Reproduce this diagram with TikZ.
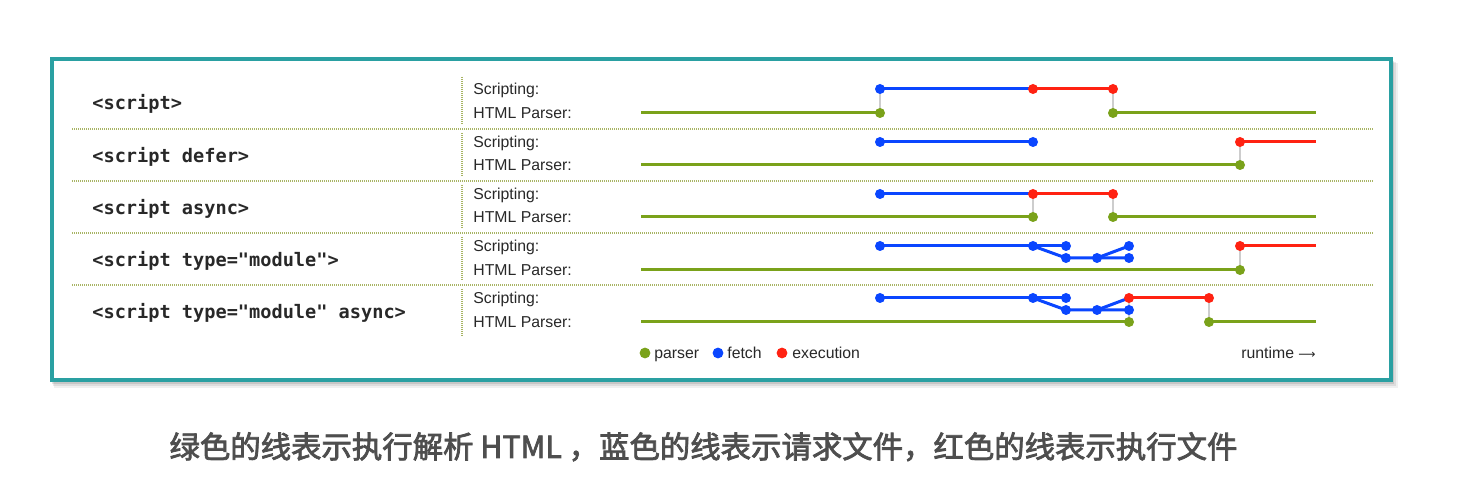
\documentclass[tikz,border=0pt]{standalone}
\usepackage{fontspec}
\setmainfont{Liberation Sans}
\newfontfamily\codefont{DejaVu Sans Mono}
\newfontfamily\cjk[FakeBold=2.5]{Noto Sans CJK SC}
\newfontfamily\dejavu{DejaVu Sans}
\definecolor{grn}{RGB}{122,162,26}
\definecolor{blu}{RGB}{10,70,255}
\definecolor{rd}{RGB}{255,34,18}
\definecolor{conn}{RGB}{205,205,205}
\definecolor{frame}{RGB}{42,160,162}
\definecolor{sep}{RGB}{168,180,100}
\definecolor{txt}{RGB}{40,40,40}
\definecolor{cap}{RGB}{78,78,78}
\tikzset{
  gline/.style={grn, line width=1.5pt},
  bline/.style={blu, line width=1.5pt},
  rline/.style={rd, line width=1.5pt},
  cline/.style={conn, line width=0.6pt},
  gdot/.style={circle, fill=grn, inner sep=0pt, minimum size=5pt},
  bdot/.style={circle, fill=blu, inner sep=0pt, minimum size=5pt},
  rdot/.style={circle, fill=rd, inner sep=0pt, minimum size=5pt},
  sepline/.style={sep, line width=0.6pt, dash pattern=on 0.5pt off 0.5pt},
  rowlabel/.style={anchor=base west, inner sep=0pt, text=txt, font=\codefont\bfseries\fontsize{9.3}{11}\selectfont},
  tracklabel/.style={anchor=base west, inner sep=0pt, text=txt, font=\fontsize{7.9}{9}\selectfont},
  legtext/.style={anchor=base west, inner sep=0pt, text=txt, font=\fontsize{7.9}{9}\selectfont}
}
\begin{document}
\begin{tikzpicture}[x=0.5pt,y=-0.5pt]
\useasboundingbox (0,0) rectangle (1464,501);
\fill[white] (0,0) rectangle (1464,501);
% shadow
\fill[black, opacity=0.06] (54,63) rectangle (1398,388);
\fill[black, opacity=0.08] (53,62) rectangle (1396,386);
\fill[black, opacity=0.10] (52,61) rectangle (1394,384);
% frame
\draw[frame, line width=2pt, fill=white] (52,59) rectangle (1391,380);

% separators
\foreach \yy in {129,181,233,285} \draw[sepline] (72,\yy) -- (1373,\yy);
\foreach \ya/\yb in {77/125,133/177,185/229,237/281,289/336} \draw[sepline] (462,\ya) -- (462,\yb);

% row labels
\node[rowlabel] (l1) at (92,110) {<script>};
\node[rowlabel] (l2) at (92,163) {<script defer>};
\node[rowlabel] (l3) at (92,215) {<script async>};
\node[rowlabel] (l4) at (92,267) {<script type="module">};
\node[rowlabel] (l5) at (92,319) {<script type="module" async>};
\foreach \s/\p/\n in {89/113/1,142/165/2,194/217/3,246/270/4,298/322/5}{
  \node[tracklabel] (sc\n) at (473,\s+6) {Scripting:};
  \node[tracklabel] (hp\n) at (473,\p+6) {HTML Parser:};
}

% ---- row 1
\coordinate (r1g0) at (641,113); \coordinate (r1g1) at (880,113);
\coordinate (r1f0) at (880,89);  \coordinate (r1f1) at (1033,89);
\coordinate (r1e1) at (1113,89); \coordinate (r1g2) at (1113,113);
\coordinate (r1g3) at (1316,113);
% ---- row 2
\coordinate (r2f0) at (880,142); \coordinate (r2f1) at (1033,142);
\coordinate (r2g0) at (641,165); \coordinate (r2g1) at (1240,165);
\coordinate (r2e0) at (1240,142); \coordinate (r2e1) at (1316,142);
% ---- row 3
\coordinate (r3f0) at (880,194); \coordinate (r3f1) at (1033,194);
\coordinate (r3e1) at (1113,194);
\coordinate (r3g0) at (641,217); \coordinate (r3g1) at (1033,217);
\coordinate (r3g2) at (1113,217); \coordinate (r3g3) at (1316,217);
% ---- row 4
\coordinate (r4f0) at (880,246); \coordinate (r4f1) at (1033,246);
\coordinate (r4m1) at (1066,246); \coordinate (r4m2) at (1066,258);
\coordinate (r4m3) at (1097,258); \coordinate (r4m4) at (1129,258);
\coordinate (r4m5) at (1129,246);
\coordinate (r4e0) at (1240,246); \coordinate (r4e1) at (1316,246);
\coordinate (r4g0) at (641,270); \coordinate (r4g1) at (1240,270);
% ---- row 5
\coordinate (r5f0) at (880,298); \coordinate (r5f1) at (1033,298);
\coordinate (r5m1) at (1066,298); \coordinate (r5m2) at (1066,310);
\coordinate (r5m3) at (1097,310); \coordinate (r5m4) at (1129,310);
\coordinate (r5m5) at (1129,298); \coordinate (r5e1) at (1209,298);
\coordinate (r5g0) at (641,322); \coordinate (r5g1) at (1129,322);
\coordinate (r5g2) at (1209,322); \coordinate (r5g3) at (1316,322);

% gray connectors
\draw[cline] (r1f0) -- (r1g1);
\draw[cline] (r1e1) -- (r1g2);
\draw[cline] (r2e0) -- (r2g1);
\draw[cline] (r3f1) -- (r3g1);
\draw[cline] (r3e1) -- (r3g2);
\draw[cline] (r4e0) -- (r4g1);
\draw[cline] (r5m5) -- (r5g1);
\draw[cline] (r5e1) -- (r5g2);

% parser lines
\draw[gline] (r1g0) -- (r1g1);
\draw[gline] (r1g2) -- (r1g3);
\draw[gline] (r2g0) -- (r2g1);
\draw[gline] (r3g0) -- (r3g1);
\draw[gline] (r3g2) -- (r3g3);
\draw[gline] (r4g0) -- (r4g1);
\draw[gline] (r5g0) -- (r5g1);
\draw[gline] (r5g2) -- (r5g3);

% fetch lines
\draw[bline] (r1f0) -- (r1f1);
\draw[bline] (r2f0) -- (r2f1);
\draw[bline] (r3f0) -- (r3f1);
\draw[bline] (r4f0) -- (r4f1) -- (r4m1);
\draw[bline] (r4f1) -- (r4m2) -- (r4m3) -- (r4m4);
\draw[bline] (r4m3) -- (r4m5);
\draw[bline] (r5f0) -- (r5f1) -- (r5m1);
\draw[bline] (r5f1) -- (r5m2) -- (r5m3) -- (r5m4);
\draw[bline] (r5m3) -- (r5m5);

% execution lines
\draw[rline] (r1f1) -- (r1e1);
\draw[rline] (r2e0) -- (r2e1);
\draw[rline] (r3f1) -- (r3e1);
\draw[rline] (r4e0) -- (r4e1);
\draw[rline] (r5m5) -- (r5e1);

% dots
\foreach \c in {r1g1,r1g2,r2g1,r3g1,r3g2,r4g1,r5g1,r5g2} \node[gdot] at (\c) {};
\foreach \c in {r1f0,r2f0,r2f1,r3f0,r4f0,r4f1,r4m1,r4m2,r4m3,r4m4,r4m5,r5f0,r5f1,r5m1,r5m2,r5m3,r5m4} \node[bdot] at (\c) {};
\foreach \c in {r1f1,r1e1,r2e0,r3f1,r3e1,r4e0,r5m5,r5e1} \node[rdot] at (\c) {};

% legend
\node[gdot, minimum size=5.4pt] (lg1) at (645,353) {};
\node[legtext] (lt1) at (654,359) {parser};
\node[bdot, minimum size=5.4pt] (lg2) at (718,353) {};
\node[legtext] (lt2) at (727,359) {fetch};
\node[rdot, minimum size=5.4pt] (lg3) at (782,353) {};
\node[legtext] (lt3) at (792,359) {execution};
\node[legtext] (rt) at (1241,359) {runtime {\dejavu\fontsize{6}{9}\selectfont ⟶}};

% caption
\node[anchor=base, inner sep=0pt, text=cap, font=\cjk\fontsize{15.2}{18}\selectfont] (caption) at (703.5,458) {绿色的线表示执行解析 HTML ，蓝色的线表示请求文件，红色的线表示执行文件};
\end{tikzpicture}
\end{document}
